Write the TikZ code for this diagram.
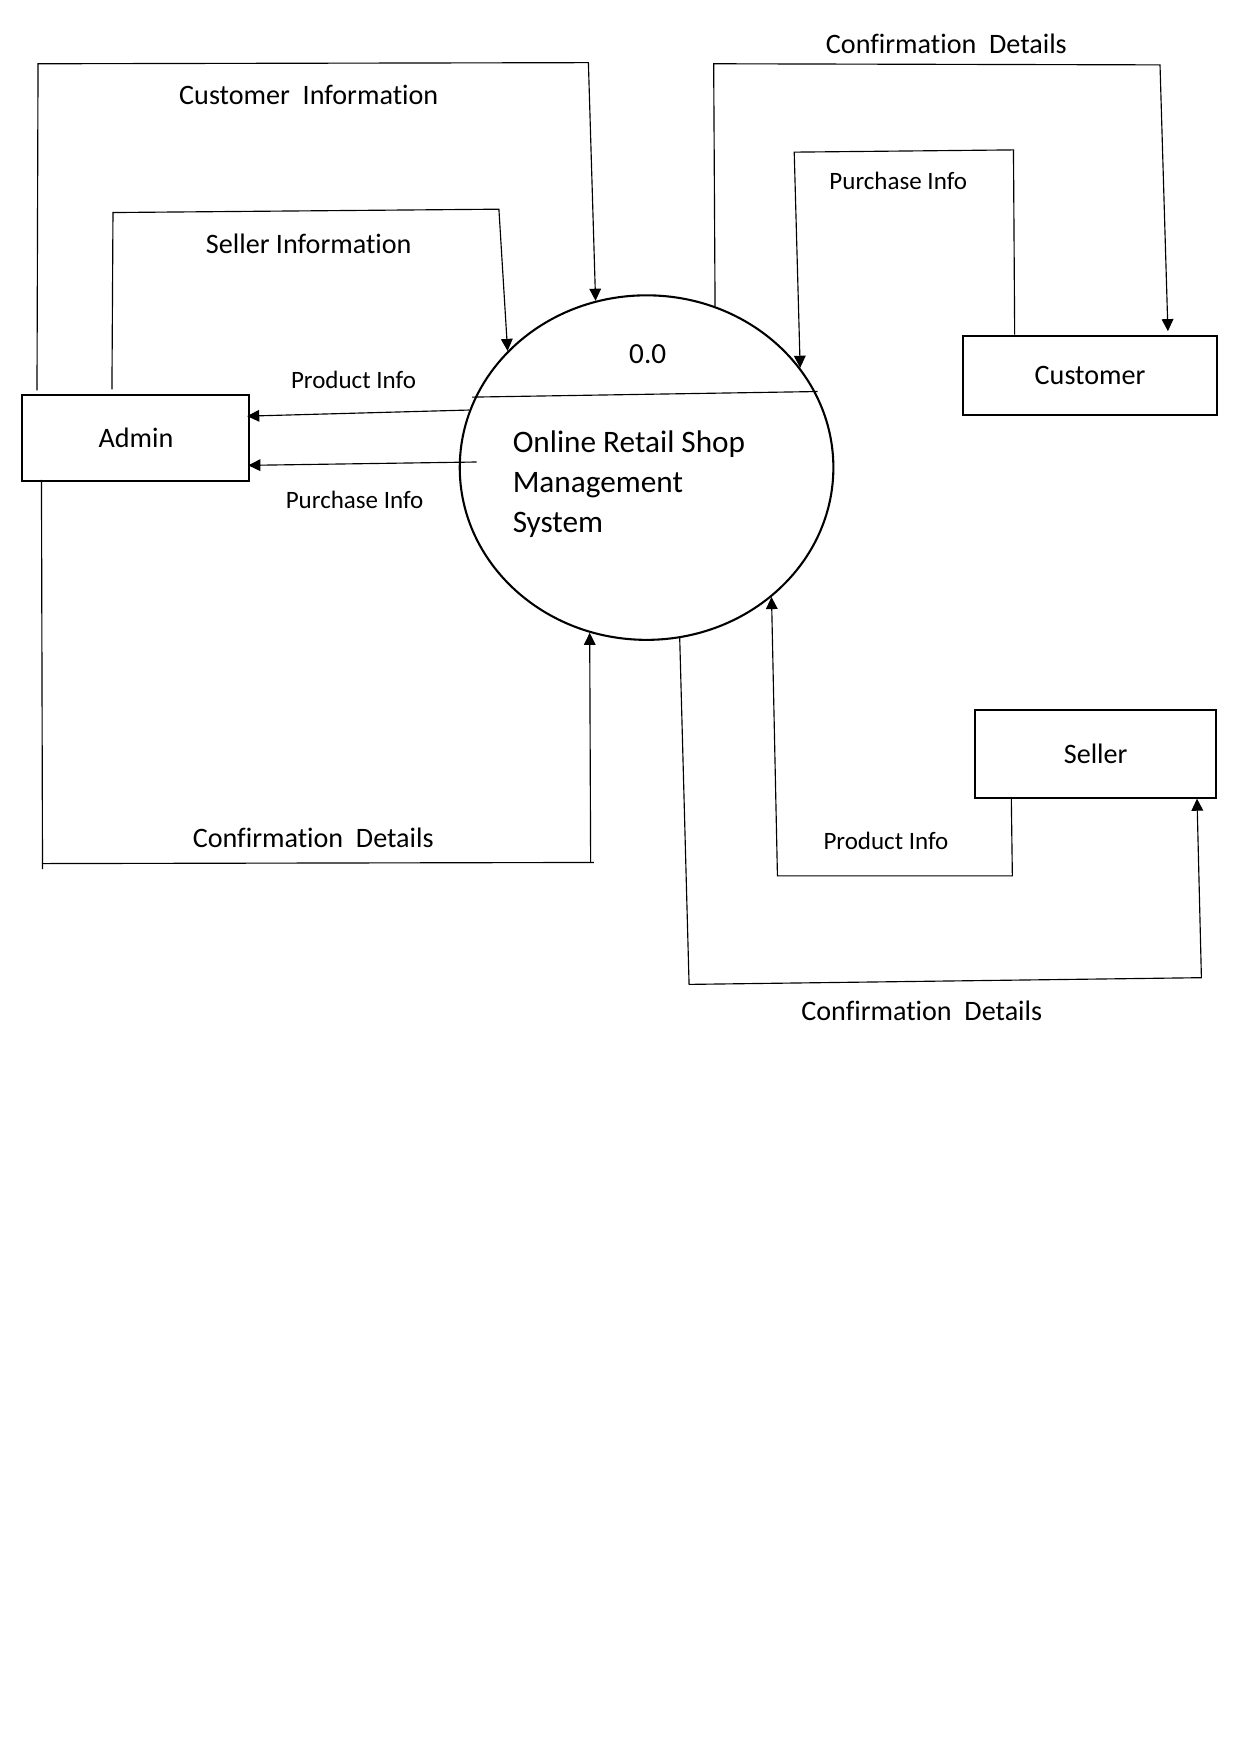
\documentclass[tikz,border=0pt]{standalone}
\usepackage{fontspec}
\setmainfont{Carlito}[Ligatures={NoCommon}]
\usetikzlibrary{arrows.meta,shapes.geometric,calc}
\begin{document}
\begin{tikzpicture}[x=0.5367pt,y=-0.5367pt,
 flow/.style={line width=0.55pt},
 arr/.style={flow,-{Triangle[length=5.8pt,width=5.6pt]}},
 entity/.style={draw,line width=1pt,inner sep=0pt,font=\fontsize{13.5}{16}\selectfont},
 lbl/.style={font=\fontsize{13.5}{16}\selectfont,inner sep=0pt},
 slbl/.style={font=\fontsize{12}{14}\selectfont,inner sep=0pt}]
\useasboundingbox (0,0) rectangle (1109,1568);

% entities
\node[entity,minimum width={203*0.5367pt},minimum height={77*0.5367pt}] (admin) at (121.5,391.5) {Admin};
\node[entity,minimum width={227*0.5367pt},minimum height={71*0.5367pt}] (customer) at (974.5,335.5) {Customer};
\node[entity,minimum width={215*0.5367pt},minimum height={78*0.5367pt}] (seller) at (979.5,674) {Seller};

% process
\node[ellipse,draw,line width=1pt,inner sep=0pt,minimum width={334*0.5367pt},minimum height={308*0.5367pt}] (proc) at (578,418) {};
\coordinate (divL) at (422,355);
\coordinate (divR) at (731,350);
\draw[flow] (divL) -- (divR);
\node[font=\fontsize{14}{16}\selectfont,inner sep=0pt] (num) at (579,317) {0.0};
\node[font=\fontsize{15}{19.3}\selectfont,align=left,anchor=west,inner sep=0pt] (ptext) at (458,433) {Online Retail Shop\\Management\\System};

% Admin -> process: Customer Information
\draw[arr] ($(admin.north west)+(14,-3)$) -- (34,57) -- (526,56) -- (proc.107.5);
\node[lbl] (l1) at (276,85) {Customer~~Information};

% Admin -> process: Seller Information
\draw[arr] ($(admin.north west)+(81,-4)$) -- (101,190) -- (446,187) -- (proc.140.3);
\node[lbl] (l2) at (276,218) {Seller Information};

% process -> Admin: Product Info
\draw[arr] (proc.162.8) -- ($(admin.east)+(-3,-19.5)$);
\node[slbl] (l3) at (316,340) {Product Info};

% process -> Admin: Purchase Info
\coordinate (pi) at (426,413);
\draw[arr] (pi) -- ($(admin.east)+(-2,24.5)$);
\node[slbl] (l4) at (317,447) {Purchase Info};

% Admin -> process: Confirmation Details
\draw[flow] ($(admin.south west)+(18,-2)$) -- (38,777);
\draw[flow] (38,772) -- (531,771);
\draw[arr] (528,771) -- (proc.251);
\node[lbl] (l5) at (280,749) {Confirmation~~Details};

% process -> Customer: Confirmation Details
\draw[arr] (proc.67) -- (638,57) -- (1037,58) -- ($(customer.north west)+(184,-3)$);
\node[lbl] (l6) at (846,39) {Confirmation~~Details};

% Customer -> process: Purchase Info
\draw[arr] ($(customer.north west)+(47,0)$) -- (906,134) -- (710,136) -- (proc.33.1);
\node[slbl] (l7) at (803,162) {Purchase Info};

% Seller -> process: Product Info
\draw[arr] ($(seller.south west)+(33,0)$) -- (905,783) -- (695,783) -- (proc.314.2);
\node[slbl] (l8) at (792,752) {Product Info};

% process -> Seller: Confirmation Details
\draw[arr] (proc.281.2) -- (616,880) -- (1074,874) -- ($(seller.south west)+(199,0)$);
\node[lbl] (l9) at (824,904) {Confirmation~~Details};
\end{tikzpicture}
\end{document}
